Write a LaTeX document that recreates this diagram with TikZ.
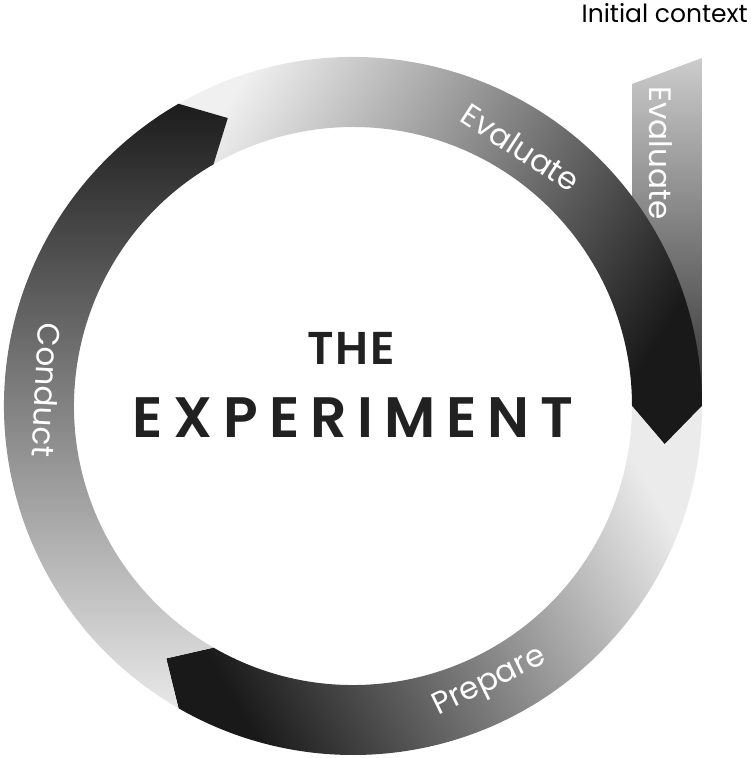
\documentclass[tikz,border=0pt]{standalone}
\usepackage{fontspec}
\setmainfont{Poppins}
\newfontfamily\titlefont[LetterSpace=4]{Poppins SemiBold}
\newfontfamily\widefont[LetterSpace=19]{Poppins SemiBold}
\usetikzlibrary{positioning}
\definecolor{ink}{gray}{0.13}

\begin{document}
\begin{tikzpicture}[x=1pt, y=1pt,
    ringlabel/.style={text=white, inner sep=0pt, font=\fontsize{31}{31}\selectfont},
    title/.style={text=ink, font=#1}]
            \useasboundingbox (0,0) rectangle (750,758);

            \begin{scope}[shift={(353,352)}]
            % side bar coming in from the initial context
            \shade[top color=black!20, bottom color=black!88] (279,322) -- (349,348) -- (0:349) -- (-7:314) -- (0:279) -- cycle;

            % evaluate
            \shade[top color=black!6, bottom color=black!90, shading angle=58] (120:349) arc[start angle=120, end angle=0, radius=349] -- (-7:314) -- (0:279) arc[start angle=0, end angle=120, radius=279] -- (113.5:314) -- cycle;
            % prepare
            \shade[top color=black!8, bottom color=black!90, shading angle=-60] (0:349) arc[start angle=0, end angle=-120, radius=349] -- (-126.5:314) -- (-120:279) arc[start angle=-120, end angle=0, radius=279] -- (-7:314) -- cycle;
            % conduct
            \shade[top color=black!89, bottom color=black!9] (240:349) arc[start angle=240, end angle=120, radius=349] -- (113.5:314) -- (120:279) arc[start angle=120, end angle=240, radius=279] -- (233.5:314) -- cycle;

            \node[ringlabel, rotate=-33] (evalring) at (57:308) {Evaluate};
            \node[ringlabel, rotate=26] (prepare) at (-63.7:309) {Prepare};
            \node[ringlabel, rotate=-93] (conduct) at (177:307) {Conduct};
            \node[ringlabel, rotate=-90] (evalbar) at (308,253) {Evaluate};
            \end{scope}

            \node[title=\titlefont\fontsize{46}{46}\selectfont, xshift=1pt] (the) at (350,410) {THE};
            \node[title=\widefont\fontsize{57}{57}\selectfont, below=27pt of the, xshift=2pt] (experiment) {EXPERIMENT};

            \node[anchor=base east, inner sep=0pt, font=\fontsize{25}{25}\selectfont] (context) at (748,735) {Initial context};
\end{tikzpicture}
\end{document}
